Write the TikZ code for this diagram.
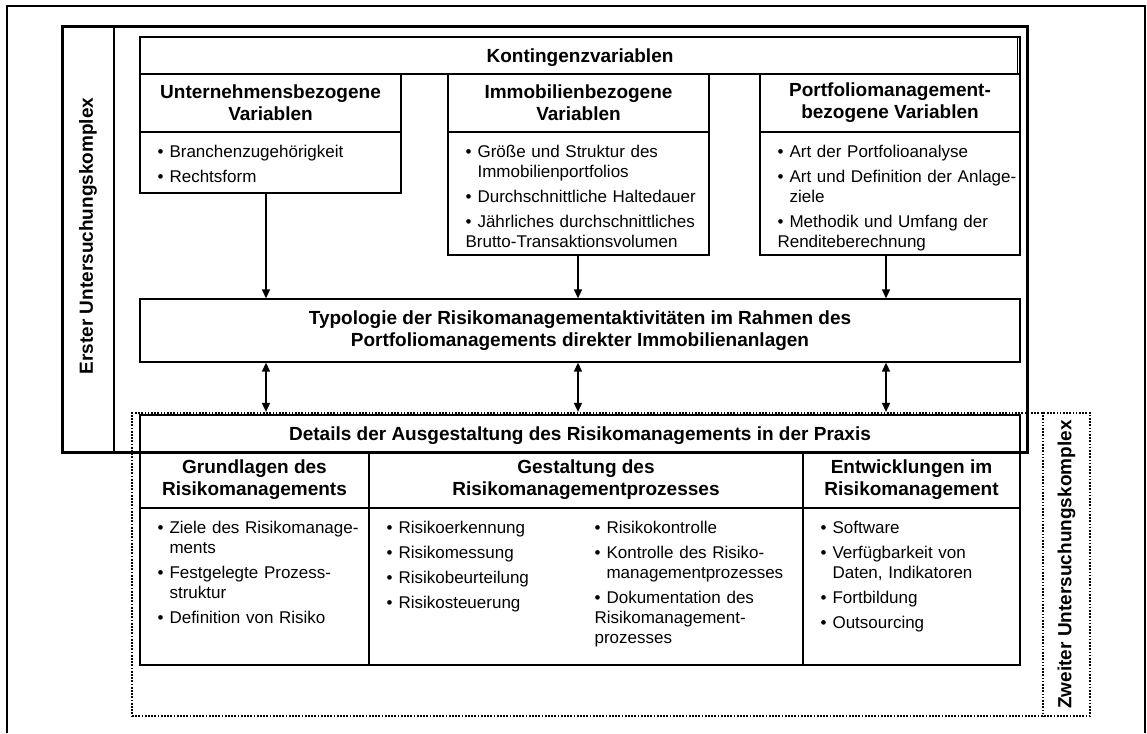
\documentclass[tikz,border=0pt]{standalone}
\usepackage{fontspec}
\setmainfont{Liberation Sans}
\usetikzlibrary{arrows.meta}

\tikzset{
	>={Triangle[length=9pt,width=8pt]},
	kasten/.style={draw, rectangle, inner sep=0pt, line width=1.3pt, align=center, font=\fontsize{19}{22}\selectfont\bfseries},
	hoch/.style={execute at begin node={\rule{0pt}{#1}}},
	liste/.style={anchor=north west, inner sep=0pt, align=left, text width=240pt, font=\fontsize{17}{20}\selectfont\setlength{\parskip}{5pt}},
	titel/.style={rotate=90, inner sep=0pt, font=\fontsize{19}{22}\selectfont\bfseries},
	pfeil/.style={line width=1.5pt},
	punktiert/.style={line width=2.2pt, dash pattern=on 1.7pt off 1.5pt},
}
\newcommand{\pkt}[1]{\par\hangindent=12pt\hangafter=1\noindent\strut\makebox[12pt][l]{•}#1}

\begin{document}
\begin{tikzpicture}[x=1pt, y=-1pt]
			\useasboundingbox (0,0) rectangle (1147,733);
			\draw[line width=1.5pt] (7,733) -- (7,6) -- (1145,6) -- (1145,733);

			\coordinate (p1) at (266,0);
			\coordinate (p2) at (578,0);
			\coordinate (p3) at (886,0);
			\coordinate (trenn) at (1043,0);

			% zweiter Untersuchungskomplex
			\draw (611,564.5) node (komplex2) [punktiert, draw, rectangle, minimum width=958pt, minimum height=303pt] {};
			\draw[punktiert] (komplex2.north -| trenn) -- (komplex2.south -| trenn);
			\draw (1066.5,564.5) node (zweiter) [titel] {Zweiter Untersuchungskomplex};

			% Kontingenzvariablen
			\draw (580,55.5) node (kont) [kasten, hoch=18pt, minimum width=880pt, minimum height=37pt] {Kontingenzvariablen};
			\draw[line width=1pt] ([xshift=-3pt]kont.north east) -- ([xshift=-3pt]kont.south east);

			\draw (270.5,103) node (untkopf) [kasten, hoch=18pt, minimum width=261pt, minimum height=58pt] {Unternehmensbezogene\\Variablen};
			\draw (270.5,162.5) node (untinhalt) [kasten, minimum width=261pt, minimum height=61pt] {};
			\draw (578.5,103) node (immokopf) [kasten, hoch=18pt, minimum width=261pt, minimum height=58pt] {Immobilienbezogene\\Variablen};
			\draw (578.5,193.5) node (immoinhalt) [kasten, minimum width=261pt, minimum height=123pt] {};
			\draw (890,103) node (pfkopf) [kasten, hoch=22pt, minimum width=260pt, minimum height=58pt] {Portfoliomanagement-\\bezogene Variablen};
			\draw (890,193.5) node (pfinhalt) [kasten, minimum width=260pt, minimum height=123pt] {};

			\node (untliste) [liste] at ([xshift=18pt,yshift=-0.5pt]untinhalt.north west) {\pkt{Branchenzugehörigkeit}\pkt{Rechtsform}};
			\node (immoliste) [liste] at ([xshift=18pt,yshift=-0.5pt]immoinhalt.north west) {\pkt{Größe und Struktur des\newline Immobilienportfolios}\pkt{Durchschnittliche Haltedauer}\pkt{Jährliches durchschnittliches\newline Brutto-Transaktionsvolumen}};
			\node (pfliste) [liste] at ([xshift=18pt,yshift=-0.5pt]pfinhalt.north west) {\pkt{Art der Portfolioanalyse}\pkt{Art und Definition der Anlage-\newline ziele}\pkt{Methodik und Umfang der\newline Renditeberechnung}};

			% Typologie
			\draw (580,330.5) node (typ) [kasten, hoch=18pt, minimum width=880pt, minimum height=63pt] {Typologie der Risikomanagementaktivitäten im Rahmen des\\Portfoliomanagements direkter Immobilienanlagen};

			\draw[pfeil, ->] (untinhalt.south -| p1) -- (typ.north -| p1);
			\draw[pfeil, ->] (immoinhalt.south -| p2) -- (typ.north -| p2);
			\draw[pfeil, ->] (pfinhalt.south -| p3) -- (typ.north -| p3);
			\draw[pfeil, <->] (typ.south -| p1) -- (komplex2.north -| p1);
			\draw[pfeil, <->] (typ.south -| p2) -- (komplex2.north -| p2);
			\draw[pfeil, <->] (typ.south -| p3) -- (komplex2.north -| p3);

			% Details
			\draw (580,433.5) node (details) [kasten, hoch=18pt, minimum width=880pt, minimum height=37pt] {Details der Ausgestaltung des Risikomanagements in der Praxis};

			\draw (254.5,480) node (grkopf) [kasten, hoch=26pt, minimum width=229pt, minimum height=56pt] {Grundlagen des\\Risikomanagements};
			\draw (254.5,586.5) node (grinhalt) [kasten, minimum width=229pt, minimum height=157pt] {};
			\draw (586,480) node (gekopf) [kasten, hoch=26pt, minimum width=434pt, minimum height=56pt] {Gestaltung des\\Risikomanagementprozesses};
			\draw (586,586.5) node (geinhalt) [kasten, minimum width=434pt, minimum height=157pt] {};
			\draw (911.5,480) node (entkopf) [kasten, hoch=26pt, minimum width=217pt, minimum height=56pt] {Entwicklungen im\\Risikomanagement};
			\draw (911.5,586.5) node (entinhalt) [kasten, minimum width=217pt, minimum height=157pt] {};

			\node (grliste) [liste] at ([xshift=18pt,yshift=-0.5pt]grinhalt.north west) {\pkt{Ziele des Risikomanage-\newline ments}\pkt{Festgelegte Prozess-\newline struktur}\pkt{Definition von Risiko}};
			\node (geliste) [liste] at ([xshift=18pt,yshift=-0.5pt]geinhalt.north west) {\pkt{Risikoerkennung}\pkt{Risikomessung}\pkt{Risikobeurteilung}\pkt{Risikosteuerung}};
			\node (geliste2) [liste] at ([xshift=226pt,yshift=-0.5pt]geinhalt.north west) {\pkt{Risikokontrolle}\pkt{Kontrolle des Risiko-\newline managementprozesses}\pkt{Dokumentation des\newline Risikomanagement-\newline prozesses}};
			\node (entliste) [liste] at ([xshift=18pt,yshift=-0.5pt]entinhalt.north west) {\pkt{Software}\pkt{Verfügbarkeit von\newline Daten, Indikatoren}\pkt{Fortbildung}\pkt{Outsourcing}};

			% erster Untersuchungskomplex
			\draw[line width=1.5pt] (114,27) -- (114,452);
			\draw (88,236) node (erster) [titel] {Erster Untersuchungskomplex};
			\draw[line width=3pt] (62,27) rectangle (1027,452);

		\end{tikzpicture}
\end{document}
